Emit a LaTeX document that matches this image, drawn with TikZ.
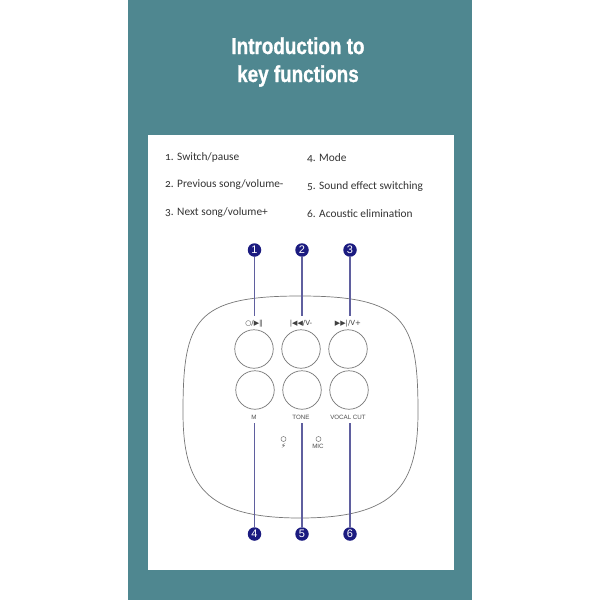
\documentclass[tikz,border=0pt]{standalone}
\usepackage{fontspec}
\setmainfont[Numbers=OldStyle]{Carlito}
\newfontfamily\titlefont{Liberation Sans}
\newfontfamily\headfont[BoldFeatures={FakeBold=1.2}]{Liberation Sans}
\newfontfamily\keyfont{DejaVu Sans}
\definecolor{panelteal}{HTML}{4F8790}
\definecolor{badgeblue}{HTML}{1B1B80}
\definecolor{leadblue}{HTML}{5F5F9F}
\definecolor{outlinegray}{HTML}{777777}
\tikzset{
  keybtn/.style={draw=outlinegray, line width=0.7pt, circle, minimum size=38.5pt, inner sep=0pt},
  badge/.style={circle, fill=badgeblue, text=white, minimum size=13.5pt, inner sep=0pt, font=\titlefont\fontsize{11}{11}\selectfont},
  leadline/.style={color=leadblue, line width=1.2pt},
  headtext/.style={anchor=base, text=white, xscale=0.82, inner sep=0pt, font=\headfont\bfseries\fontsize{23}{23}\selectfont},
  listtext/.style={anchor=west, inner sep=0pt, text=black!80, font=\fontsize{11.35}{12}\selectfont},
  keytext/.style={inner sep=0pt, text=black!70, font=\titlefont\fontsize{6.2}{7}\selectfont},
  symtext/.style={inner sep=0pt, text=black!75, font=\keyfont\fontsize{7}{7}\selectfont},
  ledhole/.style={draw=outlinegray, line width=0.5pt, circle, minimum size=5pt, inner sep=0pt}
}
\begin{document}
\begin{tikzpicture}[x=1pt,y=-1pt]
\useasboundingbox (0,0) rectangle (600,600);

\draw[fill, color=panelteal]  (128,0) rectangle (471.5,600);
\draw[fill, color=white]  (148,135) rectangle (453.5,569);

\node[headtext] (titleA) at (298,54) {Introduction to};
\node[headtext] (titleB) at (298,82) {key functions};

\node[listtext] (itemA) at (165,157) {1. Switch/pause};
\node[listtext] (itemB) at (165,185) {2. Previous song/volume-};
\node[listtext] (itemC) at (165,213) {3. Next song/volume+};
\node[listtext] (itemD) at (307,158.5) {4. Mode};
\node[listtext] (itemE) at (307,186.5) {5. Sound effect switching};
\node[listtext] (itemF) at (307,214) {6. Acoustic elimination};

% housing
\draw[color=outlinegray, line width=0.7pt] (183,412) .. controls (183,320) and (195,296) .. (300,296)
  .. controls (405,296) and (418,320) .. (418,412)
  .. controls (418,485) and (396,518) .. (300,518)
  .. controls (205,518) and (183,485) .. (183,412) -- cycle;

\node[keybtn] (btnA) at (254,349) {};
\node[keybtn] (btnB) at (301,349) {};
\node[keybtn] (btnC) at (348,349) {};
\node[keybtn] (btnD) at (255,390) {};
\node[keybtn] (btnE) at (302,390) {};
\node[keybtn] (btnF) at (349,390) {};

\node[symtext] (keyA) at (254,323.5) {○/▶‖};
\node[symtext] (keyB) at (301,323.5) {|◀◀/V-};
\node[symtext] (keyC) at (348,323.5) {▶▶|/V+};
\node[keytext] (keyD) at (254,417.5) {M};
\node[keytext] (keyE) at (301,417.5) {TONE};
\node[keytext] (keyF) at (348,417.5) {VOCAL CUT};

\node[ledhole] (ledA) at (283.5,439) {};
\node[ledhole] (ledB) at (318.5,439) {};
\node[symtext] (flashmark) at (283.5,446) {⚡};
\node[keytext] (micmark) at (318,446.5) {MIC};

\node[badge] (numA) at (254.5,250) {1};
\node[badge] (numB) at (302,250) {2};
\node[badge] (numC) at (350,250) {3};
\node[badge] (numD) at (254.5,534) {4};
\node[badge] (numE) at (302,534) {5};
\node[badge] (numF) at (350,534) {6};

\coordinate (endA) at (254.5,316);
\coordinate (endB) at (302,316);
\coordinate (endC) at (350,316);
\coordinate (endD) at (254.5,423);
\coordinate (endE) at (302,423);
\coordinate (endF) at (350,423);

\draw[leadline] (numA) -- (endA);
\draw[leadline] (numB) -- (endB);
\draw[leadline] (numC) -- (endC);
\draw[leadline] (numD) -- (endD);
\draw[leadline] (numE) -- (endE);
\draw[leadline] (numF) -- (endF);
\end{tikzpicture}
\end{document}
